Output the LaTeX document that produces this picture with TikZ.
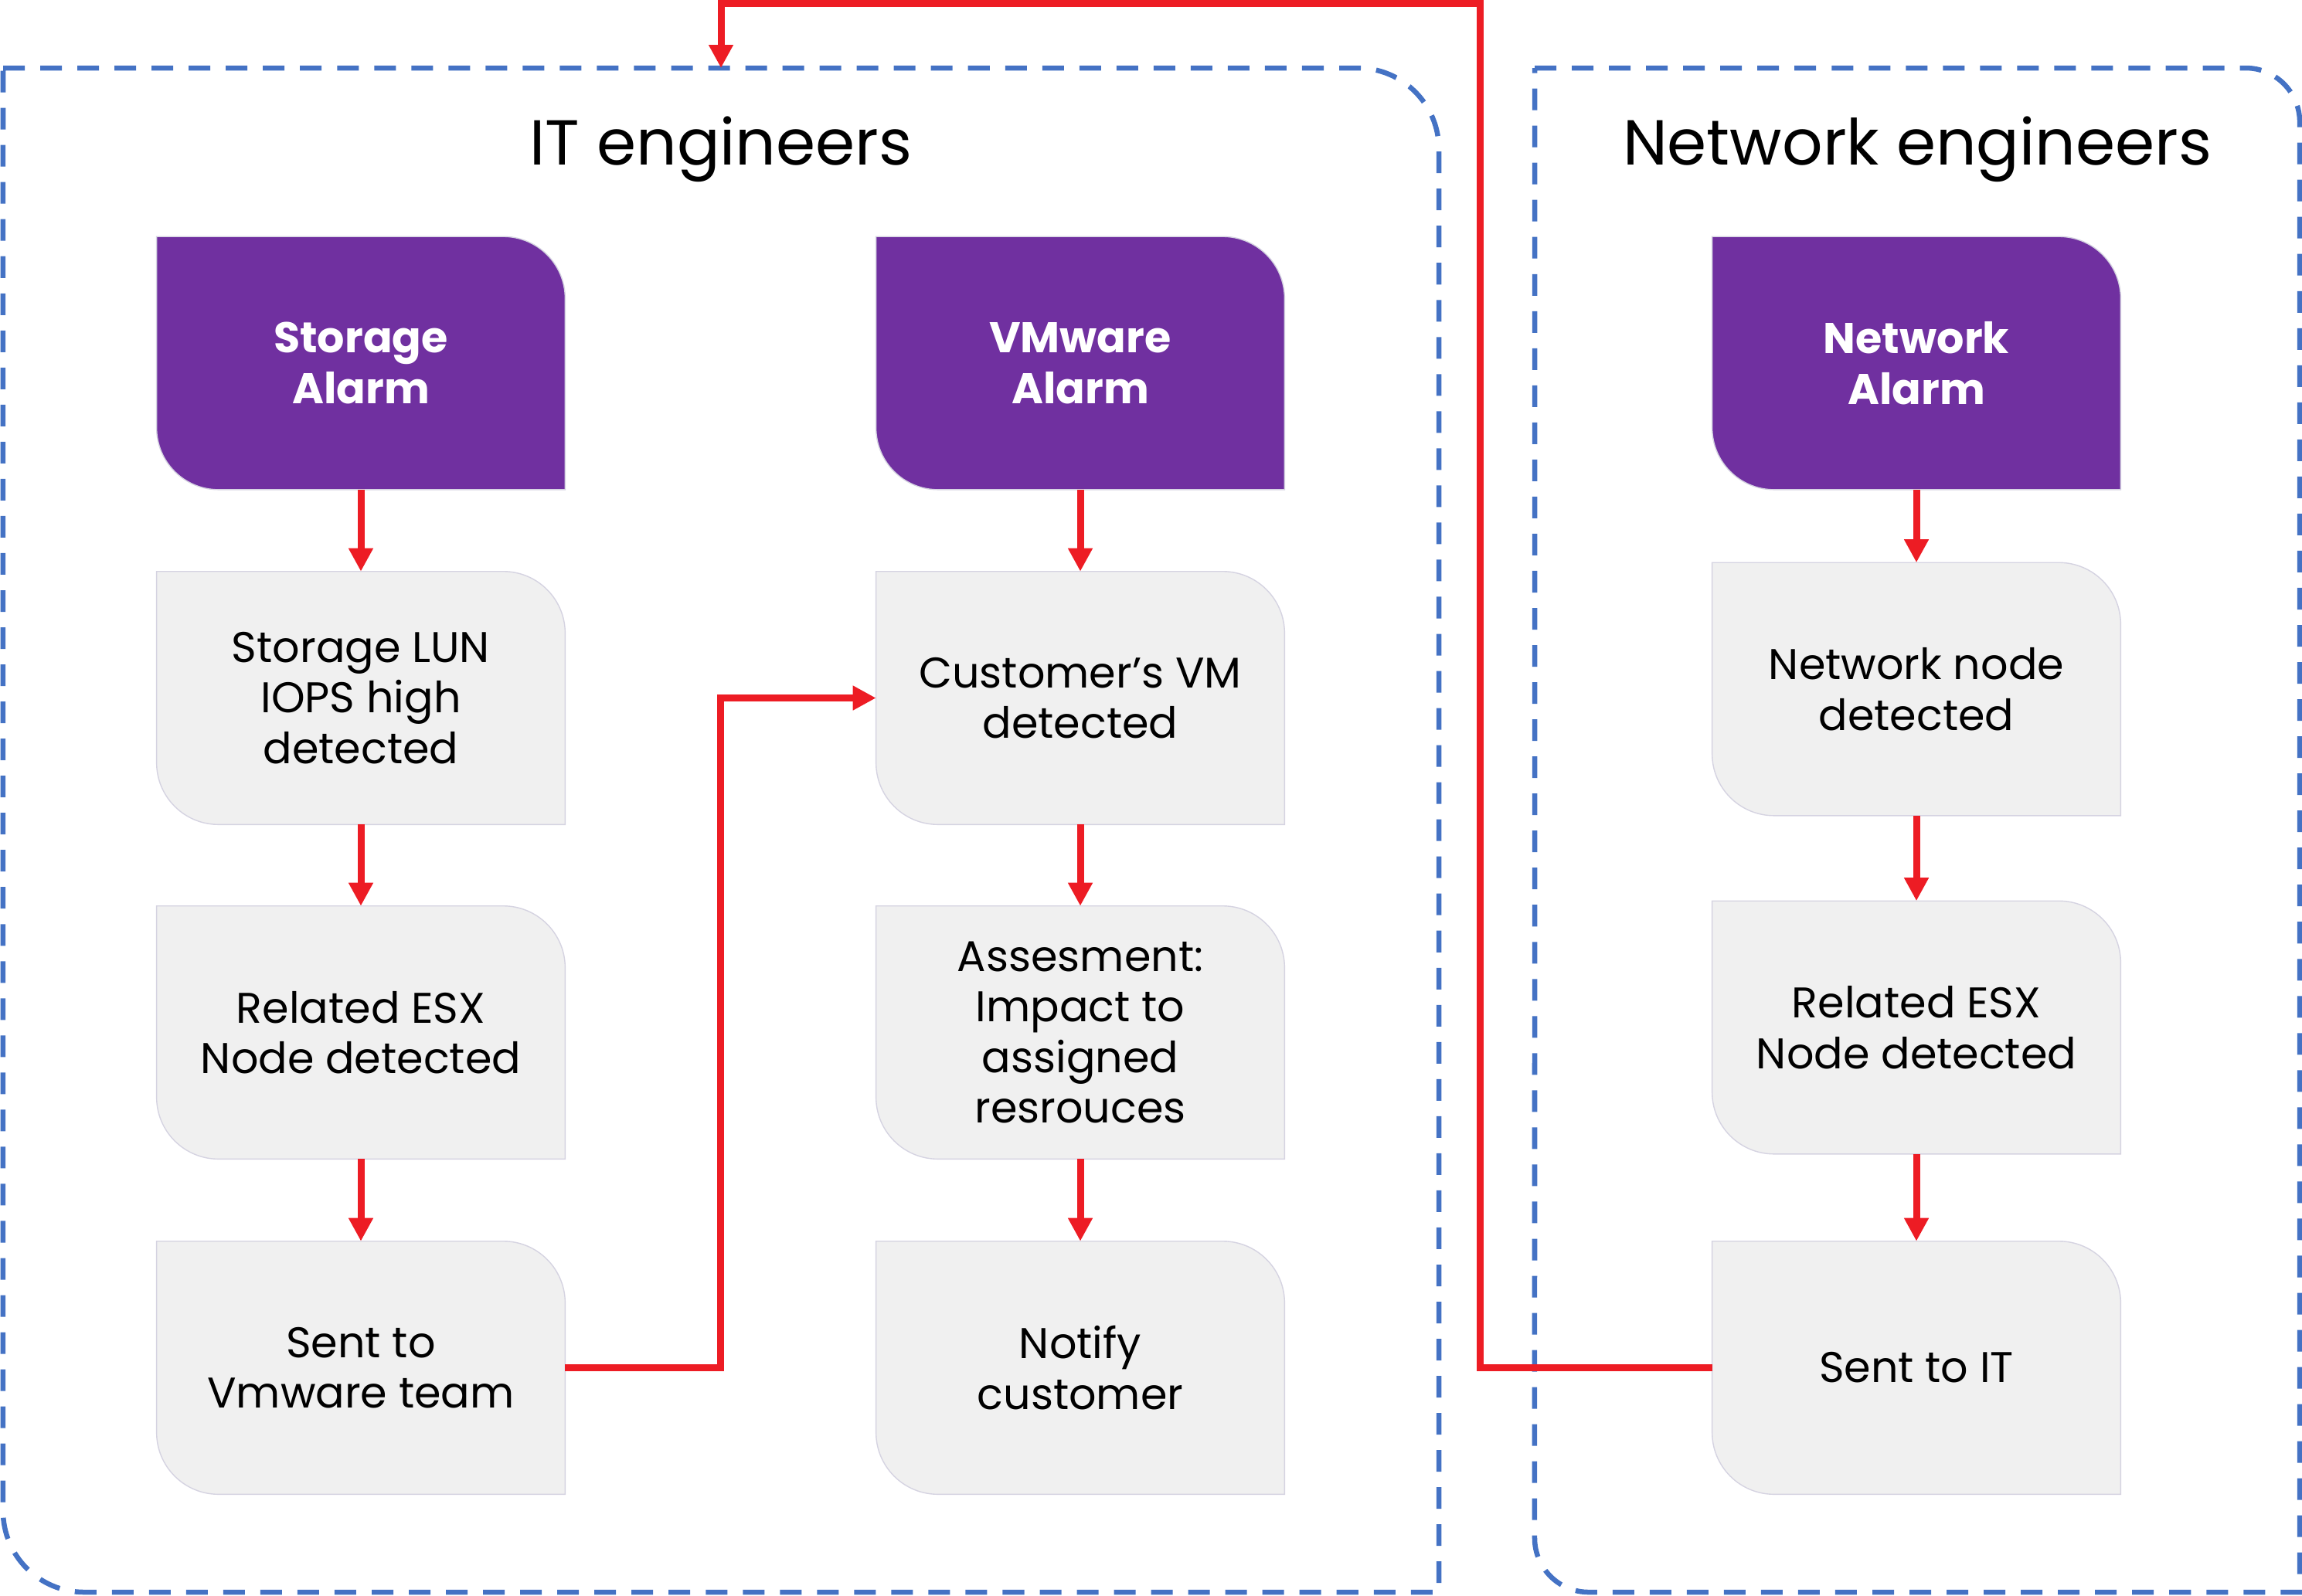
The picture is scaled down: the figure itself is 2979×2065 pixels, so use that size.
\documentclass[tikz,border=0pt]{standalone}
\usepackage{fontspec}
\setmainfont{Poppins}
\usetikzlibrary{arrows.meta,backgrounds}
\definecolor{alarmpurple}{HTML}{7030A0}
\definecolor{boxgray}{HTML}{F0F0F0}
\definecolor{boxedge}{HTML}{D5D3E1}
\definecolor{groupblue}{HTML}{4472C4}
\definecolor{flowred}{HTML}{ED1C24}
\tikzset {>={Triangle[width=3mm,length=3mm]}}
\tikzset{
  stepbox/.style={minimum width=5.27cm,minimum height=3.26cm,inner sep=0pt,align=center,
    font=\fontsize{15.8}{18.6}\selectfont},
  alarmbox/.style={stepbox,text=white,font=\fontsize{15.8}{18.6}\selectfont\bfseries},
  group/.style={draw=groupblue,line width=1.85pt,dash pattern=on 2.8mm off 2mm},
  flow/.style={draw=flowred,line width=0.9mm,->},
  title/.style={anchor=base,font=\fontsize{23.4}{28}\selectfont}
}

\begin{document}
\begin{tikzpicture}[x=0.01cm,y=0.01cm]
\useasboundingbox (0,0) rectangle (2979,-2065);
% the two teams
\draw[group] (4,-88) -- (1757,-88) arc[start angle=90,end angle=0,radius=1.05cm]
  -- (1862,-2061) -- (109,-2061) arc[start angle=270,end angle=180,radius=1.05cm] -- cycle;
\draw[group] (1986,-88) -- (2906,-88) arc[start angle=90,end angle=0,radius=0.7cm]
  -- (2976,-2061) -- (2056,-2061) arc[start angle=270,end angle=180,radius=0.7cm] -- cycle;
\node[title] (ittitle) at (933,-213) {IT engineers};
\node[title] (nettitle) at (2481,-213) {Network engineers};
\coordinate (itroof) at (933,-88);

% storage column
\node[alarmbox] (sa) at (467,-470) {Storage\\Alarm};
\node[stepbox] (lun) at (467,-903.5) {Storage LUN\\IOPS high\\detected};
\node[stepbox] (esx) at (467,-1336.5) {Related ESX\\Node detected};
\node[stepbox] (vmt) at (467,-1770.5) {Sent to\\Vmware team};
% vmware column
\node[alarmbox] (va) at (1398,-470) {VMware\\Alarm};
\node[stepbox] (cvm) at (1398,-903.5) {Customer’s VM\\detected};
\node[stepbox] (ass) at (1398,-1336.5) {Assesment:\\Impact to\\assigned\\resrouces};
\node[stepbox] (nfy) at (1398,-1770.5) {Notify\\customer};
% network column
\node[alarmbox] (na) at (2480,-470) {Network\\Alarm};
\node[stepbox] (nnd) at (2480,-892) {Network node\\detected};
\node[stepbox] (nesx) at (2480,-1330) {Related ESX\\Node detected};
\node[stepbox] (sit) at (2480,-1770.5) {Sent to IT};

\begin{scope}[on background layer]
\foreach \n in {sa,va,na}
  \filldraw[fill=alarmpurple,draw=boxedge] (\n.north west) -- ([xshift=-8mm]\n.north east)
    arc[start angle=90,end angle=0,radius=8mm] -- (\n.south east) -- ([xshift=8mm]\n.south west)
    arc[start angle=270,end angle=180,radius=8mm] -- cycle;
\foreach \n in {lun,esx,vmt,cvm,ass,nfy,nnd,nesx,sit}
  \filldraw[fill=boxgray,draw=boxedge] (\n.north west) -- ([xshift=-8mm]\n.north east)
    arc[start angle=90,end angle=0,radius=8mm] -- (\n.south east) -- ([xshift=8mm]\n.south west)
    arc[start angle=270,end angle=180,radius=8mm] -- cycle;
\end{scope}

% flow
\foreach \a/\b in {sa/lun,lun/esx,esx/vmt,va/cvm,cvm/ass,ass/nfy,na/nnd,nnd/nesx,nesx/sit}
  \draw[flow] (\a) -- (\b);
\draw[flow] (vmt.east) -- ++(201,0) |- (cvm.west);
\draw[flow] (sit.west) -- ++(-300,0) |- ([yshift=0.83cm]itroof) -- (itroof);
\end{tikzpicture}
\end{document}
